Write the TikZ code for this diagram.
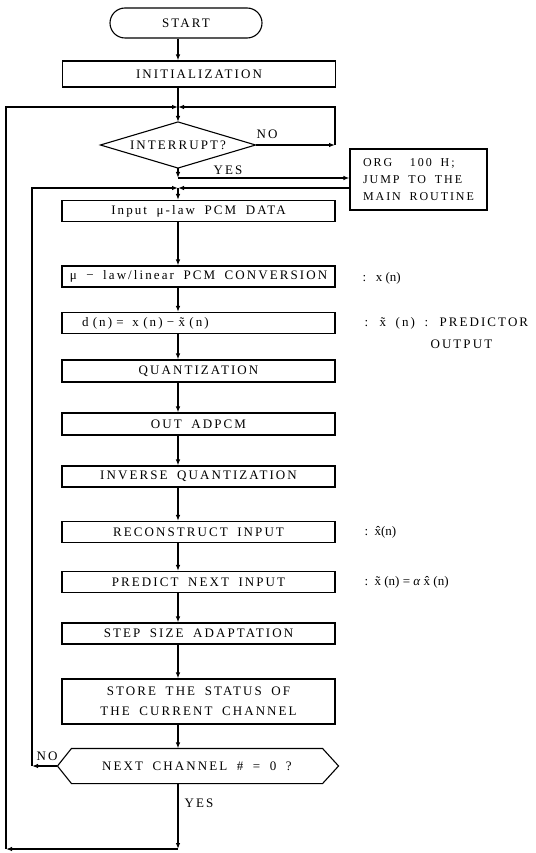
\documentclass[tikz,border=0pt]{standalone}
\usepackage{fontspec}
\setmainfont{Liberation Serif}
\newfontfamily\spaced[LetterSpace=16,WordSpace=1.8]{Liberation Serif}
\newcommand{\boxfont}{\spaced\fontsize{13}{16}\selectfont}
\usetikzlibrary{arrows.meta}
\begin{document}
\begin{tikzpicture}[x=1pt,y=-1pt,line width=1.1pt,
	box/.style={draw, minimum width=273pt, minimum height=21pt, inner sep=0pt, font=\boxfont},
	arr/.style={-{Latex[length=6pt,width=4.5pt]}},
	lab/.style={inner sep=0pt, font=\boxfont},
	note/.style={anchor=west, inner sep=0pt, font=\fontsize{13}{16}\selectfont}]
	\useasboundingbox (0,0) rectangle (535,853);
	% main column and turning points
	\coordinate (col) at (178,0);
	\coordinate (j1) at (178,107);
	\coordinate (j2) at (178,188);
	\coordinate (yes1) at (178,178);
	\coordinate (no1) at (335,145);
	\coordinate (no2) at (32,766);
	\coordinate (lp1) at (6,849);
	\coordinate (bot) at (178,849);

	\node[draw, rounded corners=15pt, minimum width=152pt, minimum height=30pt, font=\boxfont] (start) at (186,23) {START};
	\node[box, minimum height=26pt] (init) at (199,74) {INITIALIZATION};
	\node[minimum width=154pt, minimum height=45pt, inner sep=0pt, font=\boxfont] (intr) at (178,145) {INTERRUPT?};
	\draw (intr.west) -- (intr.north) -- (intr.east) -- (intr.south) -- cycle;
	\node[draw, align=left, minimum width=137pt, minimum height=61pt, inner sep=2pt, font=\spaced\fontsize{12}{17}\selectfont] (org) at (418.5,179.5) {ORG\ \ 100 H;\\JUMP TO THE\\MAIN ROUTINE};

	\node[box] (inp) at (198.5,211) {Input μ-law PCM DATA};
	\node[box] (conv) at (198.5,276.5) {μ − law/linear PCM CONVERSION};
	\node[box, align=left, text width=233pt, inner xsep=20pt] (diff) at (198.5,323) {d (n) =\ \ x (n) − \~{x} (n)};
	\node[box, minimum height=22pt] (quant) at (198.5,371) {QUANTIZATION};
	\node[box, minimum height=22pt] (out) at (198.5,424) {OUT ADPCM};
	\node[box] (invq) at (198.5,476.5) {INVERSE QUANTIZATION};
	\node[box] (recon) at (198.5,532) {RECONSTRUCT INPUT};
	\node[box] (pred) at (198.5,582) {PREDICT NEXT INPUT};
	\node[box] (stepad) at (198.5,633.5) {STEP SIZE ADAPTATION};
	\node[box, minimum height=45pt, align=center, font=\spaced\fontsize{13}{20}\selectfont] (store) at (198.5,701.5) {STORE THE STATUS OF\\THE CURRENT CHANNEL};
	\node[minimum width=250pt, minimum height=34pt, inner sep=0pt, font=\boxfont] (nxt) at (197,766) {NEXT CHANNEL \# = 0 ?};
	\draw ([xshift=-14pt]nxt.west) -- (nxt.north west) -- (nxt.north east) -- ([xshift=16pt]nxt.east) -- (nxt.south east) -- (nxt.south west) -- cycle;

	% side notes
	\node[note] (annx) at (362,278) {:\ \ \ x (n)};
	\node[note, font=\boxfont] (annd) at (364,323) {: \~{x} (n) : PREDICTOR};
	\node[note, font=\boxfont] (annd2) at (430,344) {OUTPUT};
	\node[note] (annr) at (364,532) {:\ \ \^{x}(n)};
	\node[note] (annp) at (364,582) {:\ \ \~{x} (n) = \textit{α} \^{x} (n)};

	% branch labels
	\node[lab] (noA) at (267,134) {NO};
	\node[lab] (yesA) at (228,170) {YES};
	\node[lab] (noB) at (47,756) {NO};
	\node[lab] (yesB) at (199,803) {YES};

	% flow
	\draw[arr] (start.south -| col) -- (init.north -| col);
	\draw (init.south -| col) -- (j1);
	\draw[arr] (j1) -- (intr.north);
	\draw[arr] (intr.east) -- (no1);
	\draw[arr] (no1) |- (j1);
	\draw[arr] (intr.south) -- (yes1);
	\draw[arr] (yes1) -- (yes1 -| org.west);
	\draw[arr] (j2 -| org.west) -- (j2);
	\draw[arr] (j2) -- (inp.north -| col);
	\draw[arr] (inp.south -| col) -- (conv.north -| col);
	\draw[arr] (conv.south -| col) -- (diff.north -| col);
	\draw[arr] (diff.south -| col) -- (quant.north -| col);
	\draw[arr] (quant.south -| col) -- (out.north -| col);
	\draw[arr] (out.south -| col) -- (invq.north -| col);
	\draw[arr] (invq.south -| col) -- (recon.north -| col);
	\draw[arr] (recon.south -| col) -- (pred.north -| col);
	\draw[arr] (pred.south -| col) -- (stepad.north -| col);
	\draw[arr] (stepad.south -| col) -- (store.north -| col);
	\draw[arr] (store.south -| col) -- (nxt.north -| col);
	\draw[arr] ([xshift=-14pt]nxt.west) -- (no2);
	\draw[arr] (no2) |- (j2);
	\draw[arr] (nxt.south -| col) -- (bot);
	\draw[arr] (bot) -- (lp1);
	\draw[arr] (lp1) |- (j1);
\end{tikzpicture}
\end{document}
